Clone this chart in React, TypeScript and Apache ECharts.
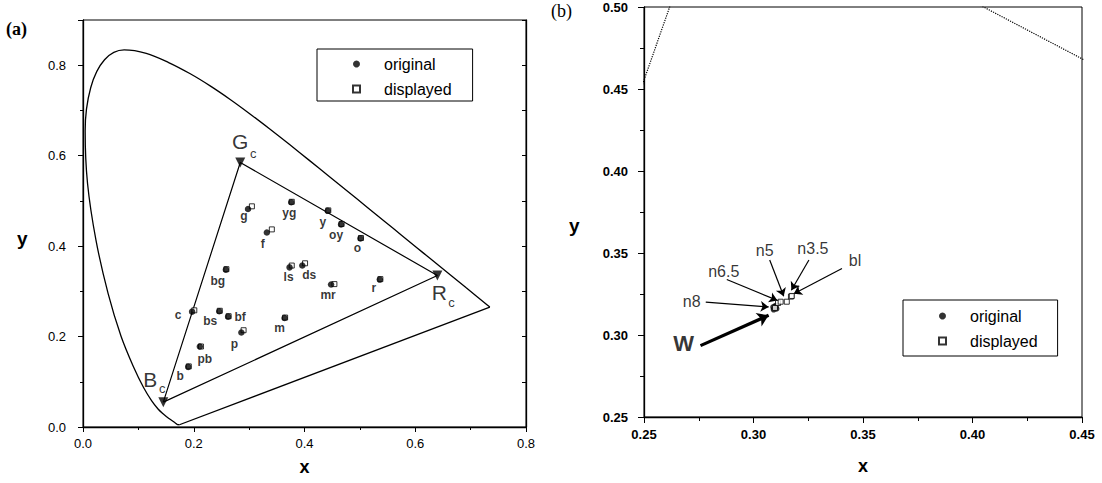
import React, { useEffect, useRef } from "react";
import * as echarts from "echarts";

// CIE 1931 spectral locus (chromaticity x, y), 380 nm .. 700 nm
const locusX = [0.1741, 0.1733, 0.1714, 0.1689, 0.1644, 0.1566, 0.151, 0.144, 0.1355, 0.1241, 0.1096, 0.0913, 0.0687, 0.0454, 0.0235, 0.0082, 0.0039, 0.0139, 0.0389, 0.0743, 0.1142, 0.1547, 0.1929, 0.2296, 0.2658, 0.3016, 0.3373, 0.3731, 0.4087, 0.4441, 0.4788, 0.5125, 0.5448, 0.5752, 0.6029, 0.627, 0.6658, 0.6915, 0.7079, 0.719, 0.73, 0.7347];
const locusY = [0.005, 0.0048, 0.0051, 0.0069, 0.0109, 0.0177, 0.0227, 0.0297, 0.0399, 0.0578, 0.0868, 0.1327, 0.2007, 0.295, 0.4127, 0.5384, 0.6548, 0.7502, 0.812, 0.8338, 0.8262, 0.8059, 0.7816, 0.7543, 0.7243, 0.6923, 0.6589, 0.6245, 0.5896, 0.5547, 0.5202, 0.4866, 0.4544, 0.4242, 0.3965, 0.3725, 0.334, 0.3083, 0.292, 0.2809, 0.27, 0.2653];

// display primaries
const primaryNames = ["B", "G", "R"];
const primaryX = [0.145, 0.284, 0.64];
const primaryY = [0.055, 0.585, 0.335];

// colour patches, panel (a)
const patchNames = ["b", "pb", "c", "bs", "bf", "p", "m", "bg", "ls", "ds", "mr", "r", "g", "f", "yg", "y", "oy", "o"];
const patchOrigX = [0.19, 0.211, 0.197, 0.246, 0.262, 0.286, 0.364, 0.258, 0.373, 0.396, 0.448, 0.536, 0.298, 0.332, 0.376, 0.442, 0.466, 0.501];
const patchOrigY = [0.133, 0.178, 0.255, 0.256, 0.244, 0.209, 0.241, 0.348, 0.353, 0.357, 0.315, 0.326, 0.482, 0.43, 0.497, 0.478, 0.448, 0.417];
const patchDispX = [0.191, 0.213, 0.201, 0.247, 0.263, 0.29, 0.365, 0.259, 0.377, 0.401, 0.454, 0.537, 0.305, 0.341, 0.377, 0.443, 0.467, 0.502];
const patchDispY = [0.134, 0.178, 0.258, 0.257, 0.245, 0.214, 0.242, 0.349, 0.357, 0.362, 0.316, 0.327, 0.488, 0.437, 0.498, 0.479, 0.449, 0.418];

// neutral patches, panel (b)
const neutralNames = ["W", "n8", "n6.5", "n5", "n3.5", "bl"];
const neutralOrigX = [0.3092, 0.309, 0.31, 0.3097, 0.3102, 0.3105];
const neutralOrigY = [0.3155, 0.317, 0.3178, 0.3165, 0.3172, 0.316];
const neutralDispX = [0.3098, 0.3112, 0.3124, 0.3152, 0.3171, 0.3175];
const neutralDispY = [0.3165, 0.3195, 0.3203, 0.3203, 0.3234, 0.3238];
const arrowStartX = [0.2758, 0.2782, 0.2878, 0.3074, 0.3253, 0.3404];
const arrowStartY = [0.2935, 0.3201, 0.3338, 0.3457, 0.3457, 0.3406];
const arrowEndX = [0.3069, 0.3069, 0.3109, 0.3138, 0.3173, 0.3184];
const arrowEndY = [0.312, 0.3171, 0.3211, 0.3236, 0.3273, 0.3252];

// tick labels
const xTicksA = [0, 0.2, 0.4, 0.6, 0.8];
const yTicksA = [0, 0.2, 0.4, 0.6, 0.8];
const xTicksB = [0.25, 0.3, 0.35, 0.4, 0.45];
const yTicksB = [0.25, 0.3, 0.35, 0.4, 0.45, 0.5];

// label placement (styling only, pixel offsets)
const patchLabelOffsets = [[-8, 9], [5, 12], [-14, 3], [-9, 10], [12, 0], [-7, 12], [-5, 10], [-8, 11], [-1, 10], [7, 9], [-3, 10], [-6, 8], [-4, 7], [-4, 11], [-2, 11], [-5, 11], [-5, 11], [-3, 10]];
const primaryLabelOffsets = [[-13, -23], [0, -21], [2, 17]];
const primarySubOffsets = [[-1, -14], [13, -9], [14, 27]];
const neutralLabelOffsets = [[-17, -2], [-14, -1], [-3, -8], [-5, -10], [4, -12], [13, -8]];

const FONT = "'Liberation Sans', Arial, sans-serif";
const BLACK = "#000";

export default function App() {
  const ref = useRef<HTMLDivElement>(null);

  useEffect(() => {
    if (!ref.current) return;
    const chart = echarts.init(ref.current, null, { renderer: "svg" });

    const locus = locusX.map((x, i) => [x, locusY[i]]);
    const last = locusX.length - 1;
    const purpleLine = [[locusX[last], locusY[last]], [locusX[0], locusY[0]]];
    const tri = [0, 1, 2, 0].map((i) => [primaryX[i], primaryY[i]]);

    const hasTick = (list: number[], v: number) => list.some((t) => Math.abs(t - v) < 1e-9);
    const labelBase = { show: true, position: "inside", color: BLACK, textBorderWidth: 0, textShadowBlur: 0, fontFamily: FONT };

    const option: any = {
      animation: false,
      backgroundColor: "#fff",
      textStyle: { fontFamily: FONT },
      grid: [
        { left: 83, top: 20, width: 443, height: 407, show: true, borderColor: BLACK, borderWidth: 1, backgroundColor: "transparent" },
        { left: 644, top: 7, width: 438, height: 410, show: true, borderColor: BLACK, borderWidth: 1, backgroundColor: "transparent" },
      ],
      xAxis: [
        {
          gridIndex: 0, type: "value", min: 0, max: 0.8, interval: 0.2,
          axisLine: { show: true, onZero: false, lineStyle: { color: BLACK, width: 1.3 } },
          axisTick: { show: true, length: 5, lineStyle: { color: BLACK } },
          minorTick: { show: true, splitNumber: 2, length: 3, lineStyle: { color: BLACK } },
          splitLine: { show: false },
          axisLabel: { color: BLACK, fontSize: 13, margin: 10, fontFamily: FONT, formatter: (v: number) => (hasTick(xTicksA, v) ? v.toFixed(1) : "") },
          name: "x", nameLocation: "middle", nameGap: 31,
          nameTextStyle: { color: BLACK, fontSize: 18, fontWeight: "bold", fontFamily: FONT },
        },
        {
          gridIndex: 1, type: "value", min: 0.25, max: 0.45, interval: 0.05,
          axisLine: { show: true, onZero: false, lineStyle: { color: BLACK, width: 1.3 } },
          axisTick: { show: true, length: 6, lineStyle: { color: BLACK } },
          minorTick: { show: true, splitNumber: 2, length: 4, lineStyle: { color: BLACK } },
          splitLine: { show: false },
          axisLabel: { color: BLACK, fontSize: 13, fontWeight: "bold", margin: 11, fontFamily: FONT, formatter: (v: number) => (hasTick(xTicksB, v) ? v.toFixed(2) : "") },
          name: "x", nameLocation: "middle", nameGap: 40,
          nameTextStyle: { color: BLACK, fontSize: 18, fontWeight: "bold", fontFamily: FONT },
        },
      ],
      yAxis: [
        {
          gridIndex: 0, type: "value", min: 0, max: 0.9, interval: 0.2,
          axisLine: { show: true, onZero: false, lineStyle: { color: BLACK, width: 1.3 } },
          axisTick: { show: true, length: 5, lineStyle: { color: BLACK } },
          minorTick: { show: true, splitNumber: 2, length: 3, lineStyle: { color: BLACK } },
          splitLine: { show: false },
          axisLabel: { color: BLACK, fontSize: 13, margin: 17, fontFamily: FONT, formatter: (v: number) => (hasTick(yTicksA, v) ? v.toFixed(1) : "") },
        },
        {
          gridIndex: 0, type: "value", min: 0, max: 0.9, interval: 0.1, position: "right",
          axisLine: { show: true, onZero: false, lineStyle: { color: BLACK, width: 1.3 } },
          axisTick: { show: true, inside: true, length: 4, lineStyle: { color: BLACK } },
          splitLine: { show: false },
          axisLabel: { show: false },
        },
        {
          gridIndex: 1, type: "value", min: 0.25, max: 0.5, interval: 0.05,
          axisLine: { show: true, onZero: false, lineStyle: { color: BLACK, width: 1.3 } },
          axisTick: { show: true, length: 6, lineStyle: { color: BLACK } },
          minorTick: { show: true, splitNumber: 2, length: 4, lineStyle: { color: BLACK } },
          splitLine: { show: false },
          axisLabel: { color: BLACK, fontSize: 13, fontWeight: "bold", margin: 16, fontFamily: FONT, formatter: (v: number) => (hasTick(yTicksB, v) ? v.toFixed(2) : "") },
        },
      ],
      legend: [
        {
          left: 317, top: 49, orient: "vertical", selectedMode: false,
          data: [{ name: "original", icon: "circle" }, { name: "displayed", icon: "rect" }],
          itemWidth: 7, itemHeight: 7, itemGap: 9,
          padding: [7, 21, 4, 35],
          borderColor: BLACK, borderWidth: 1, borderRadius: 0,
          textStyle: { color: BLACK, fontSize: 16, lineHeight: 16, fontFamily: FONT, padding: [0, 0, 0, 19] },
        },
        {
          left: 903, top: 300, orient: "vertical", selectedMode: false,
          data: [{ name: "original", icon: "circle" }, { name: "displayed", icon: "rect" }],
          itemWidth: 7, itemHeight: 7, itemGap: 9,
          padding: [8, 20, 7, 35],
          borderColor: BLACK, borderWidth: 1, borderRadius: 0,
          textStyle: { color: BLACK, fontSize: 16, lineHeight: 16, fontFamily: FONT, padding: [0, 0, 0, 19] },
        },
      ],
      graphic: [
        { type: "text", left: 6, top: 20, style: { text: "(a)", font: "bold 18px 'Liberation Serif', serif", fill: BLACK } },
        { type: "text", left: 551, top: 2, style: { text: "(b)", font: "18px 'Liberation Serif', serif", fill: BLACK } },
        { type: "text", left: 17, top: 229, style: { text: "y", font: `bold 19px ${FONT}`, fill: BLACK } },
        { type: "text", left: 569, top: 216, style: { text: "y", font: `bold 19px ${FONT}`, fill: BLACK } },
      ],
      series: [
        // ---- panel (a)
        {
          name: "spectral locus", type: "line", xAxisIndex: 0, yAxisIndex: 0,
          data: locus, showSymbol: false, symbol: "none", smooth: 0.35,
          lineStyle: { color: BLACK, width: 1.3 }, silent: true, z: 2,
        },
        {
          name: "purple line", type: "line", xAxisIndex: 0, yAxisIndex: 0,
          data: purpleLine, showSymbol: false, symbol: "none",
          lineStyle: { color: BLACK, width: 1.3 }, silent: true, z: 2,
        },
        {
          name: "display gamut", type: "line", xAxisIndex: 0, yAxisIndex: 0,
          data: tri, showSymbol: false, symbol: "none",
          lineStyle: { color: BLACK, width: 1.2 }, silent: true, z: 2,
        },
        {
          name: "primaries", type: "scatter", xAxisIndex: 0, yAxisIndex: 0,
          symbol: "triangle", symbolRotate: 180, symbolSize: 10,
          itemStyle: { color: BLACK },
          label: { ...labelBase, fontSize: 21 },
          data: primaryNames.map((n, i) => ({
            name: n, value: [primaryX[i], primaryY[i]],
            label: { formatter: n, offset: primaryLabelOffsets[i] },
          })),
          z: 4,
        },
        {
          name: "primary subscripts", type: "scatter", xAxisIndex: 0, yAxisIndex: 0,
          symbolSize: 1, itemStyle: { color: "transparent" },
          label: { ...labelBase, fontSize: 13 },
          data: primaryNames.map((n, i) => ({
            name: n + "c", value: [primaryX[i], primaryY[i]],
            label: { formatter: "c", offset: primarySubOffsets[i] },
          })),
          z: 4,
        },
        {
          name: "displayed", type: "scatter", xAxisIndex: 0, yAxisIndex: 0,
          symbol: "rect", symbolSize: 5,
          itemStyle: { color: "#fff", borderColor: BLACK, borderWidth: 1 },
          data: patchNames.map((n, i) => ({ name: n, value: [patchDispX[i], patchDispY[i]] })),
          z: 5,
        },
        {
          name: "original", type: "scatter", xAxisIndex: 0, yAxisIndex: 0,
          symbol: "circle", symbolSize: 6.5, itemStyle: { color: BLACK },
          data: patchNames.map((n, i) => ({ name: n, value: [patchOrigX[i], patchOrigY[i]] })),
          z: 6,
        },
        {
          name: "patch labels", type: "scatter", xAxisIndex: 0, yAxisIndex: 0,
          symbolSize: 1, itemStyle: { color: "transparent" },
          label: { ...labelBase, fontSize: 12, fontWeight: "bold" },
          data: patchNames.map((n, i) => ({
            name: n, value: [patchOrigX[i], patchOrigY[i]],
            label: { formatter: n, offset: patchLabelOffsets[i] },
          })),
          z: 7,
        },
        // ---- panel (b)
        {
          name: "display gamut (b)", type: "line", xAxisIndex: 1, yAxisIndex: 2,
          data: tri, showSymbol: false, symbol: "none", clip: true,
          lineStyle: { color: BLACK, width: 1.2, type: "dotted" }, silent: true, z: 2,
        },
        {
          name: "original", type: "scatter", xAxisIndex: 1, yAxisIndex: 2,
          symbol: "circle", symbolSize: 6, itemStyle: { color: BLACK },
          data: neutralNames.map((n, i) => ({ name: n, value: [neutralOrigX[i], neutralOrigY[i]] })),
          z: 5,
        },
        {
          name: "displayed", type: "scatter", xAxisIndex: 1, yAxisIndex: 2,
          symbol: "rect", symbolSize: 5,
          itemStyle: { color: "#fff", borderColor: BLACK, borderWidth: 1 },
          data: neutralNames.map((n, i) => ({ name: n, value: [neutralDispX[i], neutralDispY[i]] })),
          z: 6,
        },
        {
          name: "arrow W", type: "lines", coordinateSystem: "cartesian2d", xAxisIndex: 1, yAxisIndex: 2,
          symbol: ["none", "arrow"], symbolSize: 11,
          lineStyle: { color: BLACK, width: 3.2, opacity: 1, curveness: 0 },
          data: [0].map((i) => ({ name: neutralNames[i], coords: [[arrowStartX[i], arrowStartY[i]], [arrowEndX[i], arrowEndY[i]]] })),
          z: 4, silent: true,
        },
        {
          name: "arrows", type: "lines", coordinateSystem: "cartesian2d", xAxisIndex: 1, yAxisIndex: 2,
          symbol: ["none", "arrow"], symbolSize: 8,
          lineStyle: { color: BLACK, width: 1.2, opacity: 1, curveness: 0 },
          data: [1, 2, 3, 4, 5].map((i) => ({ name: neutralNames[i], coords: [[arrowStartX[i], arrowStartY[i]], [arrowEndX[i], arrowEndY[i]]] })),
          z: 4, silent: true,
        },
        {
          name: "neutral labels", type: "scatter", xAxisIndex: 1, yAxisIndex: 2,
          symbolSize: 1, itemStyle: { color: "transparent" },
          label: { ...labelBase, fontSize: 16 },
          data: neutralNames.map((n, i) => ({
            name: n, value: [arrowStartX[i], arrowStartY[i]],
            label: i === 0
              ? { formatter: n, offset: neutralLabelOffsets[i], fontSize: 22, fontWeight: "bold" }
              : { formatter: n, offset: neutralLabelOffsets[i] },
          })),
          z: 6,
        },
      ],
    };

    chart.setOption(option);
    return () => chart.dispose();
  }, []);

  return (
    <div
      ref={ref}
      style={{ position: "absolute", left: 0, top: 0, width: 1102, height: 483, background: "#fff" }}
    />
  );
}
